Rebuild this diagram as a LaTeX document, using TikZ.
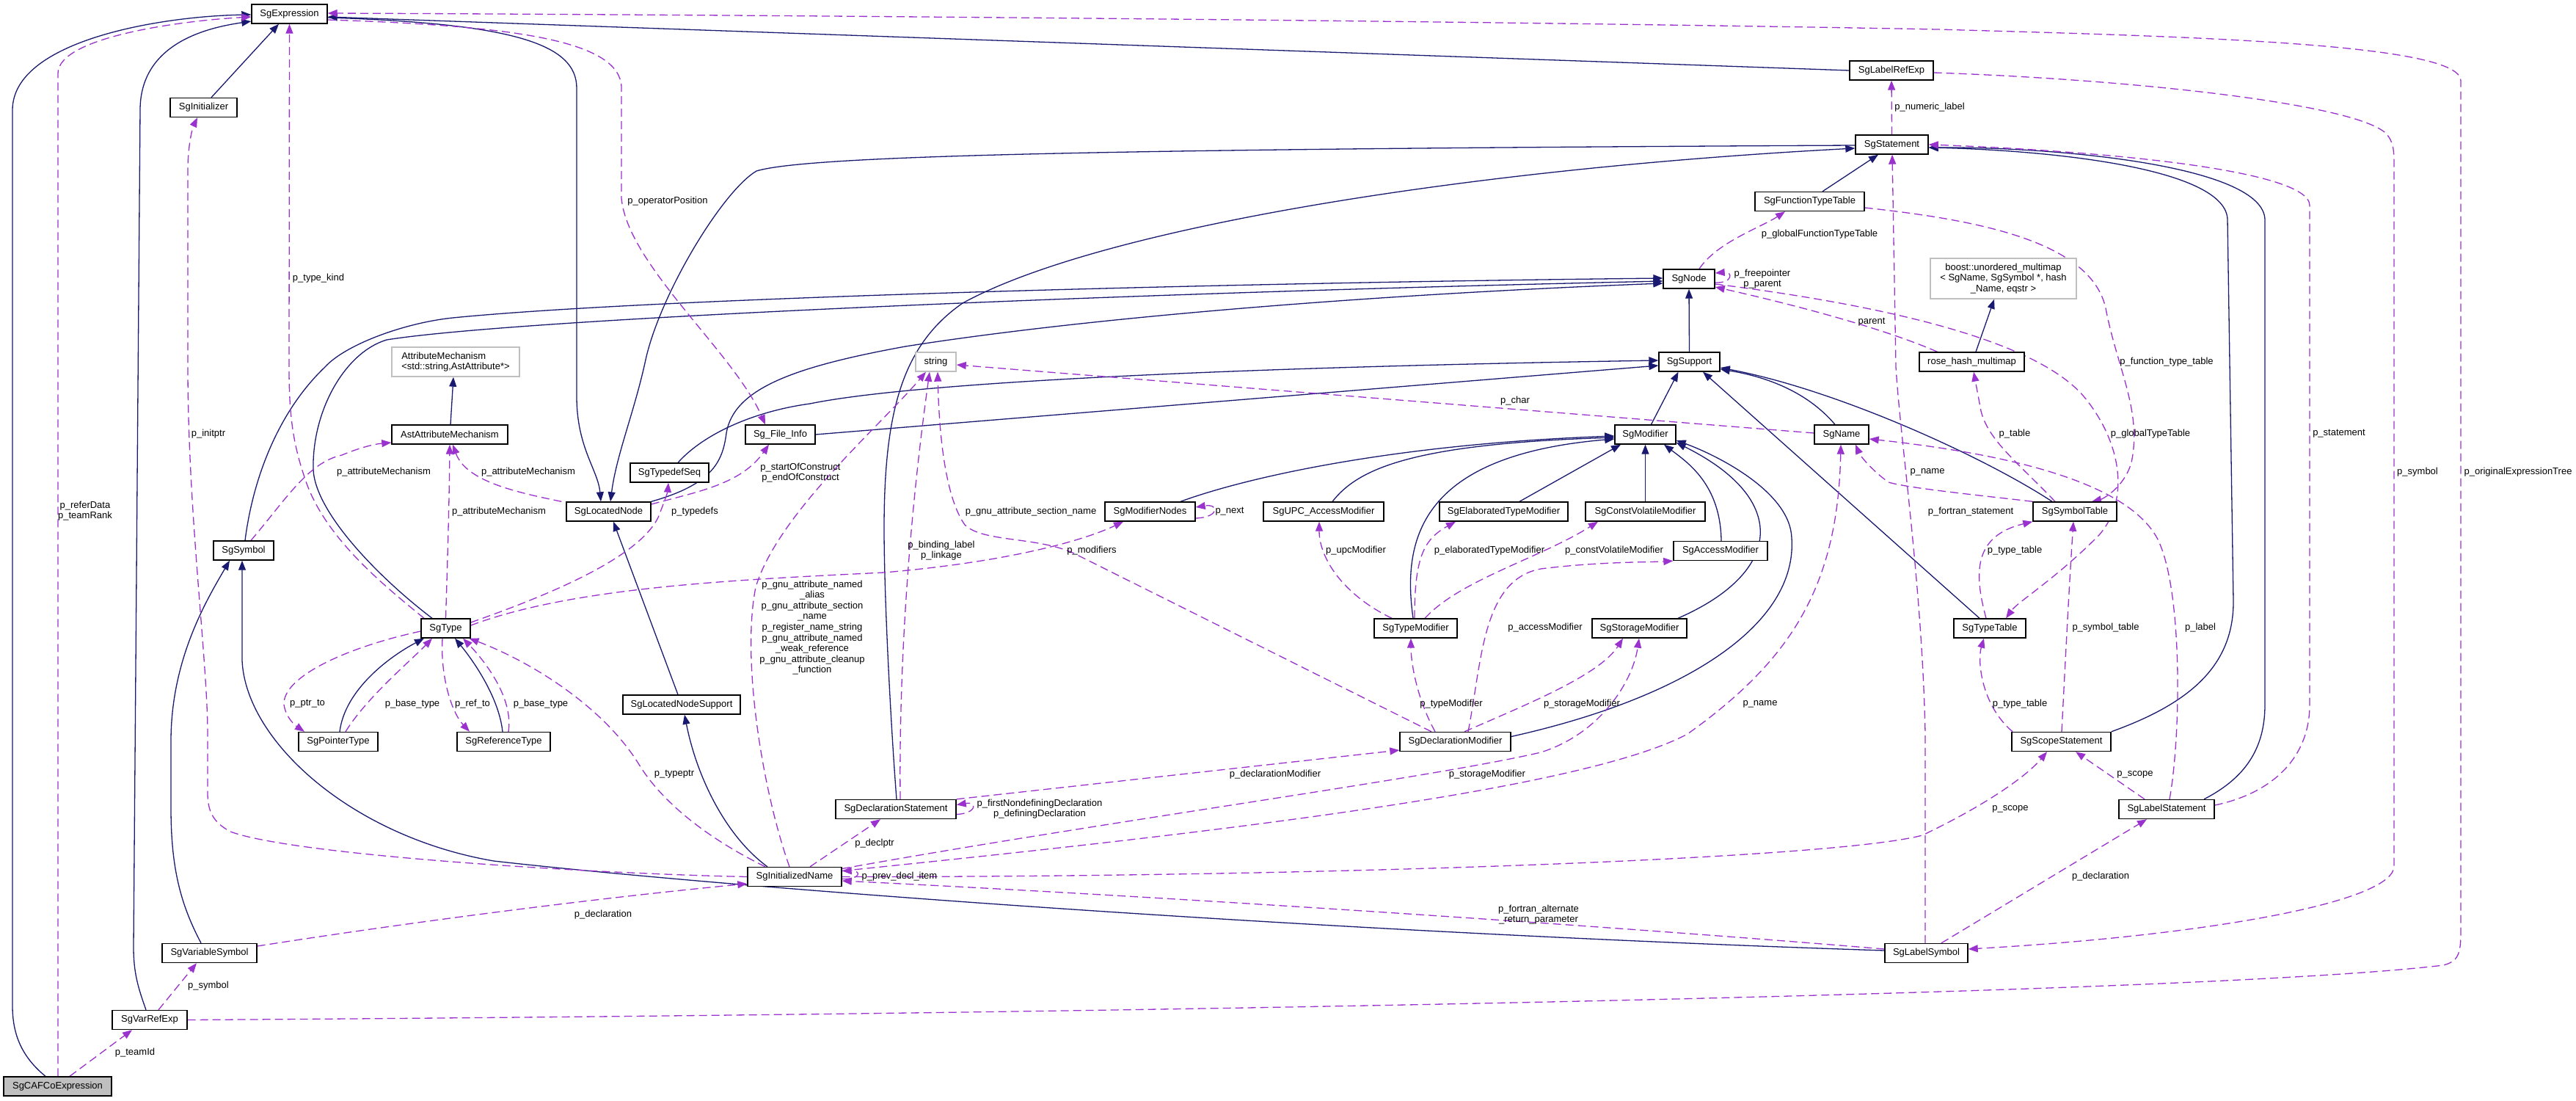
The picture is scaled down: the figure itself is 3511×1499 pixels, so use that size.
\documentclass[tikz,border=0pt]{standalone}
\usepackage{fontspec}
\setmainfont{Liberation Sans}
\usetikzlibrary{arrows.meta}
\definecolor{navy}{HTML}{191970}
\definecolor{orchid}{HTML}{9A32CD}
\definecolor{grayb}{HTML}{BFBFBF}
\pgfdeclarelayer{back}
\pgfdeclarelayer{bg}
\pgfsetlayers{back,bg,main}
\begin{document}
\begin{tikzpicture}[x=1pt,y=-1pt,font=\fontsize{13}{14.6}\selectfont,
 cls/.style={draw=black,line width=1.4pt,fill=white,inner sep=0pt,minimum height=26pt,text=black},
 extbox/.style={draw=grayb,line width=1.4pt,fill=white,inner sep=0pt,text=black},
 inhedge/.style={draw=navy,line width=1.3pt,-{Triangle[length=13pt,width=10pt]}},
 useedge/.style={draw=orchid,line width=1.3pt,dash pattern=on 11pt off 6pt,-{Triangle[length=13pt,width=10pt]}},
 lbl/.style={inner sep=0pt,text=black,align=center}]
\begin{pgfonlayer}{back}
\fill[white] (0,0) rectangle (3511,1499);
\end{pgfonlayer}
\useasboundingbox (0,0) rectangle (3511,1499);
% ---------- nodes
\node[cls,minimum width=103pt] (SgExpression) at (394.5,19) {SgExpression};
\node[cls,minimum width=91pt] (SgInitializer) at (277.5,146.5) {SgInitializer};
\node[extbox,minimum width=174pt,minimum height=40pt,align=left] (AttributeMechanism) at (621,493) {AttributeMechanism\\<std::string,AstAttribute*>};
\node[cls,minimum width=158pt] (AstAttributeMechanism) at (613,592) {AstAttributeMechanism};
\node[cls,minimum width=115pt] (SgLocatedNode) at (829.5,697) {SgLocatedNode};
\node[cls,minimum width=82pt] (SgSymbol) at (332,750) {SgSymbol};
\node[cls,minimum width=67pt] (SgType) at (607.5,856) {SgType};
\node[cls,minimum width=108pt] (SgPointerType) at (461,1010.5) {SgPointerType};
\node[cls,minimum width=127pt] (SgReferenceType) at (686.5,1010.5) {SgReferenceType};
\node[cls,minimum width=95pt] (Sg_File_Info) at (1063.5,592) {Sg\_File\_Info};
\node[cls,minimum width=107pt] (SgTypedefSeq) at (912.5,644) {SgTypedefSeq};
\node[extbox,minimum width=55pt,minimum height=26pt] (string) at (1275.5,493) {string};
\node[cls,minimum width=123pt] (SgModifierNodes) at (1567.5,697) {SgModifierNodes};
\node[cls,minimum width=160pt] (SgLocatedNodeSupport) at (929,960) {SgLocatedNodeSupport};
\node[cls,minimum width=83pt] (SgSupport) at (2302.5,493) {SgSupport};
\node[cls,minimum width=83pt] (SgModifier) at (2242.5,592) {SgModifier};
\node[cls,minimum width=74pt] (SgName) at (2510,592) {SgName};
\node[cls,minimum width=164pt] (SgUPC_AccessModifier) at (1804,697) {SgUPC\_AccessModifier};
\node[cls,minimum width=175pt] (SgElaboratedTypeModifier) at (2049.5,697) {SgElaboratedTypeModifier};
\node[cls,minimum width=163pt] (SgConstVolatileModifier) at (2242.5,697) {SgConstVolatileModifier};
\node[cls,minimum width=128pt] (SgAccessModifier) at (2345,750.5) {SgAccessModifier};
\node[cls,minimum width=113pt] (SgTypeModifier) at (1929.5,856) {SgTypeModifier};
\node[cls,minimum width=129pt] (SgStorageModifier) at (2234.5,856) {SgStorageModifier};
\node[cls,minimum width=151pt] (SgDeclarationModifier) at (1983.5,1010.5) {SgDeclarationModifier};
\node[cls,minimum width=114pt] (SgSymbolTable) at (2828,697) {SgSymbolTable};
\node[cls,minimum width=98pt] (SgTypeTable) at (2712,856) {SgTypeTable};
\node[cls,minimum width=143pt] (rose_hash_multimap) at (2687.5,493) {rose\_hash\_multimap};
\node[extbox,minimum width=199pt,minimum height=55pt,align=center] (boost) at (2730.5,379.5) {boost::unordered\_multimap\\< SgName, SgSymbol *, hash\\\_Name, eqstr >};
\node[cls,minimum width=99pt] (SgStatement) at (2578.5,197) {SgStatement};
\node[cls,minimum width=114pt] (SgLabelRefExp) at (2578,96) {SgLabelRefExp};
\node[cls,minimum width=149pt] (SgFunctionTypeTable) at (2466.5,274.5) {SgFunctionTypeTable};
\node[cls,minimum width=70pt] (SgNode) at (2302,380) {SgNode};
\node[cls,minimum width=135pt] (SgScopeStatement) at (2809.5,1010.5) {SgScopeStatement};
\node[cls,minimum width=130pt] (SgLabelStatement) at (2953,1102.5) {SgLabelStatement};
\node[cls,minimum width=113pt] (SgLabelSymbol) at (2625.5,1298.5) {SgLabelSymbol};
\node[cls,minimum width=147pt,fill=grayb] (SgCAFCoExpression) at (78.5,1480) {SgCAFCoExpression};
\node[cls,minimum width=102pt] (SgVarRefExp) at (204,1389.5) {SgVarRefExp};
\node[cls,minimum width=129pt] (SgVariableSymbol) at (285.5,1298.5) {SgVariableSymbol};
\node[cls,minimum width=128pt] (SgInitializedName) at (1083,1194.5) {SgInitializedName};
\node[cls,minimum width=164pt] (SgDeclarationStatement) at (1221,1102.5) {SgDeclarationStatement};
% ---------- edges
\begin{pgfonlayer}{bg}
% inheritance
\draw[inhedge] ([xshift=-16.5pt]SgCAFCoExpression.north) .. controls (30,1440) and (17,1410) .. (17,1370) -- (17,150) .. controls (17,55) and (220,22) .. ([yshift=-1pt]SgExpression.west);
\draw[inhedge] ([xshift=-5pt]SgVarRefExp.north) .. controls (188,1345) and (182,1325) .. (182,1290) -- (191,150) .. controls (191,60) and (280,38) .. ([yshift=-10pt]SgExpression.west);
\draw[inhedge] ([xshift=10.5pt]SgInitializer.north) -- ([xshift=-14.5pt]SgExpression.south);
\draw[inhedge] (SgLabelRefExp.west) -- ([yshift=-4pt]SgExpression.east);
\draw[inhedge] ([yshift=-5pt]SgExpression.east) .. controls (700,32) and (786,60) .. (786,120) -- (786,540) .. controls (786,610) and (815,640) .. ([xshift=-10.5pt]SgLocatedNode.north);
\draw[inhedge] ([yshift=-1pt]SgStatement.west) .. controls (1500,203) and (1100,212) .. (1031,233) .. controls (985,260) and (900,400) .. (880,490) .. controls (865,560) and (840,620) .. ([xshift=2.5pt]SgLocatedNode.north);
\draw[inhedge] ([xshift=1pt]SgDeclarationStatement.north) .. controls (1215,1000) and (1205,820) .. (1205,720) .. controls (1205,560) and (1230,470) .. (1312,413) .. controls (1500,310) and (2000,230) .. ([yshift=-5pt]SgStatement.west);
\draw[inhedge] (SgLocatedNode.north east) .. controls (970,660) and (985,630) .. (990,590) .. controls (1000,530) and (1080,500) .. (1234,472) .. controls (1500,430) and (1900,400) .. ([yshift=-6pt]SgNode.west);
\draw[inhedge] ([xshift=-18.5pt]SgType.north) .. controls (520,790) and (430,700) .. (427,640) .. controls (425,560) and (470,480) .. (527,463) .. controls (700,435) and (1500,400) .. ([yshift=-3pt]SgNode.west);
\draw[inhedge] ([xshift=2pt]SgSymbol.north) .. controls (345,650) and (380,560) .. (443,500) .. controls (470,470) and (550,440) .. (617,433) .. controls (900,405) and (1700,385) .. ([yshift=1pt]SgNode.west);
\draw[inhedge] (SgSupport.north) -- (SgNode.south);
\draw[inhedge] ([xshift=11.5pt]SgTypedefSeq.north) .. controls (960,590) and (1030,560) .. (1104,550) .. controls (1250,520) and (1700,500) .. ([yshift=2pt]SgSupport.west);
\draw[inhedge] (Sg_File_Info.east) -- ([yshift=-5pt]SgSupport.west);
\draw[inhedge] ([xshift=8pt]SgModifier.north) -- ([xshift=-15pt]SgSupport.south);
\draw[inhedge] ([xshift=-9pt]SgName.north) .. controls (2460,530) and (2400,512) .. ([yshift=-10pt]SgSupport.east);
\draw[inhedge] ([xshift=-31pt]SgSymbolTable.north) .. controls (2700,620) and (2500,530) .. ([yshift=-8pt]SgSupport.east);
\draw[inhedge] ([xshift=-14pt]SgTypeTable.north) -- ([xshift=18.5pt]SgSupport.south);
\draw[inhedge] ([xshift=17.5pt]SgFunctionTypeTable.north) -- ([xshift=-18.5pt]SgStatement.south);
\draw[inhedge] (SgScopeStatement.north east) .. controls (2980,960) and (3044,910) .. (3044,820) -- (3036,300) .. controls (3036,230) and (2800,205) .. ([yshift=-4pt]SgStatement.east);
\draw[inhedge] ([xshift=51pt]SgLabelStatement.north) .. controls (3060,1060) and (3087,1020) .. (3087,960) -- (3087,300) .. controls (3087,225) and (2800,200) .. ([yshift=-4pt]SgStatement.east);
\draw[inhedge] ([xshift=-5pt]SgLocatedNodeSupport.north) -- ([xshift=6.5pt]SgLocatedNode.south);
\draw[inhedge] ([xshift=-37pt]SgInitializedName.north) .. controls (990,1140) and (950,1060) .. ([xshift=4pt]SgLocatedNodeSupport.south);
\draw[inhedge] ([xshift=-11.5pt]SgVariableSymbol.north) .. controls (245,1230) and (233,1180) .. (233,1100) -- (233,1010) .. controls (233,900) and (280,820) .. ([xshift=-19pt]SgSymbol.south);
\draw[inhedge] ([yshift=3.5pt]SgLabelSymbol.west) .. controls (1800,1270) and (1000,1210) .. (673,1173) .. controls (480,1140) and (335,1010) .. (330,900) -- ([xshift=-2pt]SgSymbol.south);
\draw[inhedge] ([xshift=1pt]AstAttributeMechanism.north) -- ([xshift=-3pt]AttributeMechanism.south);
\draw[inhedge] ([xshift=5.5pt]rose_hash_multimap.north) -- ([xshift=-12.5pt]boost.south);
\draw[inhedge] ([xshift=2pt]SgPointerType.north) .. controls (470,940) and (530,895) .. ([xshift=-29.5pt]SgType.south);
\draw[inhedge] ([xshift=-1.5pt]SgReferenceType.north) .. controls (680,950) and (645,900) .. ([xshift=12.5pt]SgType.south);
\draw[inhedge] ([xshift=41.5pt]SgModifierNodes.north) .. controls (1700,650) and (1900,605) .. ([yshift=-2pt]SgModifier.west);
\draw[inhedge] ([xshift=12pt]SgUPC_AccessModifier.north) .. controls (1850,640) and (1920,605) .. ([yshift=-4pt]SgModifier.west);
\draw[inhedge] ([xshift=-3.5pt]SgTypeModifier.north) .. controls (1910,730) and (1940,620) .. ([yshift=-6pt]SgModifier.west);
\draw[inhedge] ([xshift=21.5pt]SgElaboratedTypeModifier.north) -- ([xshift=-33.5pt]SgModifier.south);
\draw[inhedge] (SgConstVolatileModifier.north) -- (SgModifier.south);
\draw[inhedge] ([xshift=1pt]SgAccessModifier.north) .. controls (2345,660) and (2300,630) .. ([xshift=25.5pt]SgModifier.south);
\draw[inhedge] ([xshift=52.5pt]SgStorageModifier.north) .. controls (2430,780) and (2440,680) .. ([yshift=-11pt]SgModifier.east);
\draw[inhedge] ([yshift=7pt]SgDeclarationModifier.east) .. controls (2300,950) and (2450,850) .. (2442,733) .. controls (2440,670) and (2340,620) .. ([yshift=-8pt]SgModifier.east);
% usage
\draw[useedge] ([xshift=16.5pt]SgCAFCoExpression.north) -- ([xshift=-24pt]SgVarRefExp.south);
\draw[useedge] ([xshift=0.5pt]SgCAFCoExpression.north) -- (79,100) .. controls (79,50) and (250,28) .. ([yshift=-4pt]SgExpression.west);
\draw[useedge] ([xshift=12pt]SgVarRefExp.north) -- ([xshift=-17.5pt]SgVariableSymbol.south);
\draw[useedge] (SgVarRefExp.east) .. controls (1500,1382) and (3000,1355) .. (3330,1315) .. controls (3350,1310) and (3354,1300) .. (3354,1270) -- (3354,110) .. controls (3354,60) and (3000,50) .. (2640,40) .. controls (2000,28) and (1000,20) .. ([yshift=1pt]SgExpression.east);
\draw[useedge] (SgInitializedName.west) .. controls (800,1190) and (400,1165) .. (314,1133) .. controls (290,1120) and (283,1105) .. (283,1080) -- (283,1000) .. controls (283,900) and (256,700) .. (256,500) -- (256,230) .. controls (256,200) and (262,175) .. ([xshift=-8.5pt]SgInitializer.south);
\draw[useedge] ([xshift=-29.5pt]SgType.north) .. controls (520,795) and (440,730) .. (415,650) .. controls (398,600) and (394,560) .. (394,500) -- (SgExpression.south);
\draw[useedge] ([yshift=-8pt]SgExpression.east) .. controls (700,35) and (847,55) .. (847,120) -- (847,270) .. controls (855,360) and (1000,480) .. ([xshift=-20.5pt]Sg_File_Info.north);
\draw[useedge] ([xshift=10pt]SgSymbol.north) .. controls (390,680) and (420,630) .. (466,620) .. controls (490,610) and (510,605) .. ([yshift=-11pt]AstAttributeMechanism.west);
\draw[useedge] (SgType.north) .. controls (610,760) and (612,700) .. (AstAttributeMechanism.south);
\draw[useedge] ([xshift=-6pt]SgLocatedNode.north west) .. controls (700,670) and (635,655) .. ([xshift=4pt]AstAttributeMechanism.south);
\draw[useedge] ([yshift=10pt]SgLocatedNode.east) .. controls (950,670) and (1010,660) .. ([xshift=-15.5pt]Sg_File_Info.south);
\draw[useedge] ([yshift=8pt]SgType.east) .. controls (750,810) and (870,760) .. (897,705) .. controls (905,685) and (910,670) .. ([xshift=-1.5pt]SgTypedefSeq.south);
\draw[useedge] ([yshift=4pt]SgType.east) .. controls (780,800) and (1000,790) .. (1205,780) .. controls (1380,765) and (1480,735) .. ([xshift=-36.5pt]SgModifierNodes.south);
\draw[useedge] ([yshift=-9pt]SgModifierNodes.east) .. controls (1662,705) and (1662,686) .. ([yshift=6pt]SgModifierNodes.east);
\draw[useedge] ([yshift=2pt]SgName.west) -- ([yshift=-4pt]string.east);
\draw[useedge] ([xshift=-32.5pt]SgDeclarationModifier.north) -- (1470,757) .. controls (1420,730) and (1340,740) .. (1315,715) .. controls (1290,680) and (1280,600) .. ([xshift=2.5pt]string.south);
\draw[useedge] ([xshift=6pt]SgDeclarationStatement.north) .. controls (1225,900) and (1240,700) .. ([xshift=-8.5pt]string.south);
\draw[useedge] ([xshift=-7pt]SgInitializedName.north) .. controls (1040,1080) and (1010,900) .. (1030,800) .. controls (1060,700) and (1200,580) .. ([xshift=-13.5pt]string.south);
\draw[useedge] ([xshift=21pt]SgInitializedName.north) -- ([xshift=-21pt]SgDeclarationStatement.south);
\draw[useedge] ([yshift=-7pt]SgDeclarationStatement.east) .. controls (1332,1108) and (1332,1092) .. ([yshift=6pt]SgDeclarationStatement.east);
\draw[useedge] ([yshift=-3pt]SgInitializedName.east) .. controls (1174,1198) and (1174,1186) .. ([yshift=8pt]SgInitializedName.east);
\draw[useedge] (SgDeclarationStatement.north east) -- ([yshift=-11.5pt]SgDeclarationModifier.west);
\draw[useedge] ([yshift=11pt]SgInitializedName.east) .. controls (1500,1120) and (1950,1060) .. (2100,1025) .. controls (2180,1000) and (2225,930) .. ([xshift=-0.5pt]SgStorageModifier.south);
\draw[useedge] ([yshift=8pt]SgInitializedName.east) .. controls (1600,1140) and (2150,1080) .. (2300,1000) .. controls (2440,900) and (2505,800) .. ([xshift=-1pt]SgName.south);
\draw[useedge] (SgInitializedName.east) .. controls (1800,1195) and (2500,1170) .. (2620,1138) .. controls (2700,1100) and (2760,1060) .. ([xshift=-19.5pt]SgScopeStatement.south);
\draw[useedge] ([yshift=5.5pt]SgLabelSymbol.west) .. controls (2200,1262) and (1600,1222) .. ([yshift=-5.5pt]SgInitializedName.east);
\draw[useedge] ([yshift=9.5pt]SgVariableSymbol.east) .. controls (600,1250) and (850,1220) .. ([yshift=-9.5pt]SgInitializedName.west);
\draw[useedge] ([xshift=-40pt]SgInitializedName.north) .. controls (960,1140) and (900,1090) .. (870,1040) .. controls (820,960) and (720,900) .. ([xshift=32pt]SgType.south);
\draw[useedge] ([yshift=-4pt]SgType.west) .. controls (480,880) and (385,920) .. (387,960) .. controls (390,980) and (405,990) .. ([xshift=-46pt]SgPointerType.north);
\draw[useedge] ([xshift=10pt]SgPointerType.north) .. controls (500,950) and (560,900) .. ([xshift=-18.5pt]SgType.south);
\draw[useedge] ([xshift=-4.5pt]SgType.south) .. controls (600,920) and (615,970) .. ([xshift=-46.5pt]SgReferenceType.north);
\draw[useedge] ([xshift=6.5pt]SgReferenceType.north) .. controls (700,950) and (660,900) .. ([xshift=23.5pt]SgType.south);
\draw[useedge] ([xshift=14pt]SgNode.north) .. controls (2340,330) and (2400,310) .. ([xshift=-33.5pt]SgFunctionTypeTable.south);
\draw[useedge] ([yshift=-5pt]SgNode.east) .. controls (2362,386) and (2362,370) .. ([yshift=8pt]SgNode.east);
\draw[useedge] ([xshift=-47pt]rose_hash_multimap.north) .. controls (2550,440) and (2400,405) .. ([yshift=-11pt]SgNode.east);
\draw[useedge] ([yshift=-7pt]SgNode.east) .. controls (2600,420) and (2780,470) .. (2840,540) .. controls (2890,600) and (2905,680) .. (2860,730) .. controls (2800,790) and (2750,820) .. ([xshift=22pt]SgTypeTable.north);
\draw[useedge] ([yshift=-8.5pt]SgFunctionTypeTable.east) .. controls (2700,300) and (2850,330) .. (2870,420) .. controls (2885,500) and (2920,560) .. (2905,630) .. controls (2895,665) and (2865,680) .. ([xshift=23pt]SgSymbolTable.north);
\draw[useedge] ([xshift=-27pt]SgSymbolTable.north) .. controls (2750,630) and (2710,600) .. (2700,560) -- ([xshift=2.5pt]rose_hash_multimap.south);
\draw[useedge] (SgSymbolTable.north west) .. controls (2700,675) and (2600,665) .. (2574,657) .. controls (2550,640) and (2535,620) .. ([xshift=19pt]SgName.south);
\draw[useedge] ([xshift=4pt]SgLabelStatement.north) .. controls (2973,1000) and (2975,800) .. (2940,733) .. controls (2900,660) and (2750,620) .. ([yshift=-6pt]SgName.east);
\draw[useedge] ([xshift=-1.5pt]SgLabelSymbol.north) -- (2624,1000) .. controls (2620,800) and (2590,600) .. (2584,500) -- ([xshift=0.5pt]SgStatement.south);
\draw[useedge] (SgStatement.north) -- (SgLabelRefExp.south);
\draw[useedge] ([yshift=-3pt]SgLabelRefExp.east) .. controls (2900,108) and (3200,140) .. (3250,180) .. controls (3263,192) and (3263,205) .. (3263,230) -- (3263,1180) .. controls (3263,1230) and (3000,1275) .. ([yshift=5.5pt]SgLabelSymbol.east);
\draw[useedge] ([yshift=5.5pt]SgLabelStatement.east) .. controls (3100,1080) and (3148,1030) .. (3148,960) -- (3148,280) .. controls (3148,230) and (2850,205) .. ([yshift=0pt]SgStatement.east);
\draw[useedge] ([xshift=-30pt]SgLabelStatement.north) -- ([xshift=19.5pt]SgScopeStatement.south);
\draw[useedge] ([xshift=20.5pt]SgLabelSymbol.north) -- ([xshift=-27pt]SgLabelStatement.south);
\draw[useedge] ([xshift=0.5pt]SgScopeStatement.north) .. controls (2815,900) and (2820,800) .. ([xshift=-2pt]SgSymbolTable.south);
\draw[useedge] ([xshift=-5pt]SgTypeTable.north) .. controls (2690,780) and (2690,730) .. (SgSymbolTable.south west);
\draw[useedge] ([xshift=-66.5pt]SgScopeStatement.north) .. controls (2700,960) and (2695,900) .. ([xshift=-8pt]SgTypeTable.south);
\draw[useedge] ([xshift=-32.5pt]SgTypeModifier.north) .. controls (1830,810) and (1798,760) .. ([xshift=-6pt]SgUPC_AccessModifier.south);
\draw[useedge] ([xshift=-1.5pt]SgTypeModifier.north) .. controls (1928,760) and (1940,735) .. ([xshift=-65.5pt]SgElaboratedTypeModifier.south);
\draw[useedge] ([xshift=12.5pt]SgTypeModifier.north) .. controls (1990,790) and (2100,760) .. ([xshift=-64.5pt]SgConstVolatileModifier.south);
\draw[useedge] ([xshift=17.5pt]SgDeclarationModifier.north) .. controls (2020,900) and (2020,790) .. (2100,775) .. controls (2180,765) and (2250,766) .. (SgAccessModifier.south west);
\draw[useedge] ([xshift=-27.5pt]SgDeclarationModifier.north) .. controls (1930,950) and (1923,900) .. ([xshift=-6.5pt]SgTypeModifier.south);
\draw[useedge] ([xshift=12.5pt]SgDeclarationModifier.north) .. controls (2080,960) and (2180,920) .. ([xshift=-22.5pt]SgStorageModifier.south);
\end{pgfonlayer}
% ---------- labels
\node[lbl] (l1) at (434,379) {p\_type\_kind};
\node[lbl] (l2) at (910,274) {p\_operatorPosition};
\node[lbl] (l3) at (116,696) {p\_referData\\p\_teamRank};
\node[lbl] (l4) at (284,591) {p\_initptr};
\node[lbl] (l5) at (523,643) {p\_attributeMechanism};
\node[lbl] (l6) at (720,643) {p\_attributeMechanism};
\node[lbl] (l7) at (680,697) {p\_attributeMechanism};
\node[lbl] (l8) at (419,959) {p\_ptr\_to};
\node[lbl] (l9) at (562,959) {p\_base\_type};
\node[lbl] (l10) at (644,959) {p\_ref\_to};
\node[lbl] (l11) at (737,959) {p\_base\_type};
\node[lbl] (l12) at (947,697) {p\_typedefs};
\node[lbl] (l13) at (1091,644) {p\_startOfConstruct\\p\_endOfConstruct};
\node[lbl] (l14) at (1405,697) {p\_gnu\_attribute\_section\_name};
\node[lbl] (l15) at (1283,750) {p\_binding\_label\\p\_linkage};
\node[lbl] (l16) at (1488,750) {p\_modifiers};
\node[lbl] (l17) at (1676,697) {p\_next};
\node[lbl] (l18) at (1107,855) {p\_gnu\_attribute\_named\\\_alias\\p\_gnu\_attribute\_section\\\_name\\p\_register\_name\_string\\p\_gnu\_attribute\_named\\\_weak\_reference\\p\_gnu\_attribute\_cleanup\\\_function};
\node[lbl] (l19) at (2065,546) {p\_char};
\node[lbl] (l20) at (1848,750) {p\_upcModifier};
\node[lbl] (l21) at (2030,750) {p\_elaboratedTypeModifier};
\node[lbl] (l22) at (2200,750) {p\_constVolatileModifier};
\node[lbl] (l23) at (2106,855) {p\_accessModifier};
\node[lbl] (l24) at (1978,959) {p\_typeModifier};
\node[lbl] (l25) at (2156,959) {p\_storageModifier};
\node[lbl] (l26) at (2399,959) {p\_name};
\node[lbl] (l27) at (2627,643) {p\_name};
\node[lbl] (l28) at (2630,146) {p\_numeric\_label};
\node[lbl] (l29) at (2480,319) {p\_globalFunctionTypeTable};
\node[lbl] (l30) at (2402,380) {p\_freepointer\\p\_parent};
\node[lbl] (l31) at (2551,439) {parent};
\node[lbl] (l32) at (2953,493) {p\_function\_type\_table};
\node[lbl] (l33) at (2746,591) {p\_table};
\node[lbl] (l34) at (2931,591) {p\_globalTypeTable};
\node[lbl] (l35) at (3188,591) {p\_statement};
\node[lbl] (l36) at (3295,643) {p\_symbol};
\node[lbl] (l37) at (3432,643) {p\_originalExpressionTree};
\node[lbl] (l38) at (2686,697) {p\_fortran\_statement};
\node[lbl] (l39) at (2746,750) {p\_type\_table};
\node[lbl] (l40) at (2870,855) {p\_symbol\_table};
\node[lbl] (l41) at (2999,855) {p\_label};
\node[lbl] (l42) at (2753,959) {p\_type\_table};
\node[lbl] (l43) at (2910,1055) {p\_scope};
\node[lbl] (l44) at (2740,1102) {p\_scope};
\node[lbl] (l45) at (2863,1194) {p\_declaration};
\node[lbl] (l46) at (284,1343) {p\_symbol};
\node[lbl] (l47) at (184,1434) {p\_teamId};
\node[lbl] (l48) at (822,1246) {p\_declaration};
\node[lbl] (l49) at (919,1055) {p\_typeptr};
\node[lbl] (l50) at (1192,1149) {p\_declptr};
\node[lbl] (l51) at (1226,1194) {p\_prev\_decl\_item};
\node[lbl] (l52) at (1417,1102) {p\_firstNondefiningDeclaration\\p\_definingDeclaration};
\node[lbl] (l53) at (1738,1055) {p\_declarationModifier};
\node[lbl] (l54) at (2027,1055) {p\_storageModifier};
\node[lbl] (l55) at (2097,1246) {p\_fortran\_alternate\\\_return\_parameter};
\end{tikzpicture}
\end{document}
